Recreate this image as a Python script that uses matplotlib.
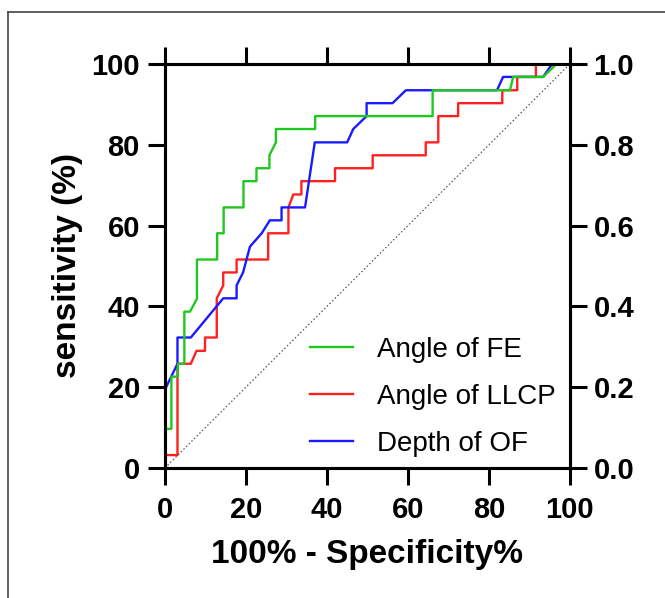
import matplotlib
matplotlib.use("Agg")
import matplotlib.pyplot as plt
from matplotlib.lines import Line2D

plt.rcParams['font.family'] = ['Liberation Sans', 'DejaVu Sans']

# ROC curves: x = 100% - specificity, y = sensitivity (%)
fe_x = [0, 0, 1.6, 1.6, 3.2, 3.2, 4.8, 4.8, 6.2, 7.9, 7.9, 12.9, 12.9, 14.5, 14.5,
        19.4, 19.4, 22.6, 22.6, 25.8, 25.8, 27.4, 27.4, 37.1, 37.1, 66.1, 66.1,
        85.2, 86.0, 93.4, 96.7, 100]
fe_y = [0, 9.7, 9.7, 22.6, 22.6, 25.8, 25.8, 38.7, 38.7, 41.9, 51.6, 51.6, 58.1, 58.1, 64.5,
        64.5, 71.0, 71.0, 74.2, 74.2, 77.4, 80.6, 83.9, 83.9, 87.1, 87.1, 93.5,
        93.5, 96.8, 96.8, 100, 100]

llcp_x = [0, 0, 3.1, 3.1, 6.4, 7.8, 9.9, 9.9, 12.8, 12.8, 14.4, 14.4, 17.7, 17.7,
          25.5, 25.5, 30.5, 30.5, 31.7, 33.7, 33.7, 42.0, 42.0, 51.3, 51.3, 64.4, 64.4,
          67.5, 67.5, 72.4, 72.4, 83.3, 83.3, 87.0, 87.0, 91.6, 91.6, 100]
llcp_y = [0, 3.2, 3.2, 25.8, 25.8, 29.0, 29.0, 32.3, 32.3, 42.0, 45.2, 48.4, 48.4, 51.6,
          51.6, 58.1, 58.1, 64.5, 67.7, 67.7, 71.0, 71.0, 74.2, 74.2, 77.4, 77.4, 80.6,
          80.6, 87.1, 87.1, 90.3, 90.3, 93.5, 93.5, 96.8, 96.8, 100, 100]

of_x = [0, 0, 3.1, 3.1, 6.4, 14.4, 17.7, 17.7, 19.3, 21.0, 23.9, 25.9, 28.8, 28.8,
        34.6, 37.0, 45.0, 46.5, 49.8, 49.8, 56.2, 59.5, 82.0, 83.5, 93.4, 95.6, 100]
of_y = [0, 19.4, 25.8, 32.3, 32.3, 42.0, 42.0, 45.2, 48.4, 54.8, 58.1, 61.3, 61.3, 64.5,
        64.5, 80.6, 80.6, 83.9, 87.1, 90.3, 90.3, 93.5, 93.5, 96.8, 96.8, 100, 100]

labels = ['Angle of FE', 'Angle of LLCP', 'Depth of OF']
colors = ['#1fc81f', '#ff2020', '#1a1aff']

fig = plt.figure(figsize=(6.65, 5.98), dpi=100)
ax = fig.add_axes([0.248, 0.2174, 0.609, 0.6756])

# diagonal reference line
ax.plot([0, 100], [0, 100], color='#555555', lw=0.9, ls=(0, (1.2, 1.8)), zorder=1)

ax.plot(fe_x, fe_y, color=colors[0], lw=1.7, zorder=3)
ax.plot(llcp_x, llcp_y, color=colors[1], lw=1.7, zorder=2)
ax.plot(of_x, of_y, color=colors[2], lw=1.7, zorder=2)

ax.set_xlim(0, 100)
ax.set_ylim(0, 100)
ax.set_xticks(range(0, 101, 20))
ax.set_yticks(range(0, 101, 20))
ax.xaxis.set_ticks_position('both')
ax.tick_params(axis='both', direction='out', length=12, width=2.2, labelsize=21, pad=6)
ax.tick_params(axis='x', pad=8)
for lab in ax.get_xticklabels() + ax.get_yticklabels():
    lab.set_fontweight('bold')
for sp in ax.spines.values():
    sp.set_linewidth(2.2)

ax.set_xlabel('100% - Specificity%', fontsize=24, fontweight='bold', labelpad=11)
ax.set_ylabel('sensitivity (%)', fontsize=24, fontweight='bold', labelpad=6)

ax2 = ax.twinx()
ax2.set_ylim(0, 1)
ax2.set_yticks([0, 0.2, 0.4, 0.6, 0.8, 1.0])
ax2.set_yticklabels(['0.0', '0.2', '0.4', '0.6', '0.8', '1.0'], fontweight='bold')
ax2.tick_params(axis='y', direction='out', length=12, width=2.2, labelsize=21, pad=5)
for sp in ax2.spines.values():
    sp.set_linewidth(2.2)

handles = [Line2D([], [], color=c, lw=1.7) for c in colors]
ax.legend(handles, labels, loc='upper left', bbox_to_anchor=(0.358, 0.325),
          frameon=False, fontsize=20, handlelength=1.55, handletextpad=0.85,
          labelspacing=0.76, borderpad=0, borderaxespad=0)

# outer frame of the figure panel
fig.add_artist(Line2D([8 / 665, 8 / 665], [0, 1 - 12 / 598], transform=fig.transFigure,
                      color='#444444', lw=1.2))
fig.add_artist(Line2D([8 / 665, 1], [1 - 12 / 598, 1 - 12 / 598], transform=fig.transFigure,
                      color='#444444', lw=1.2))

fig.savefig('out.png', dpi=100)
